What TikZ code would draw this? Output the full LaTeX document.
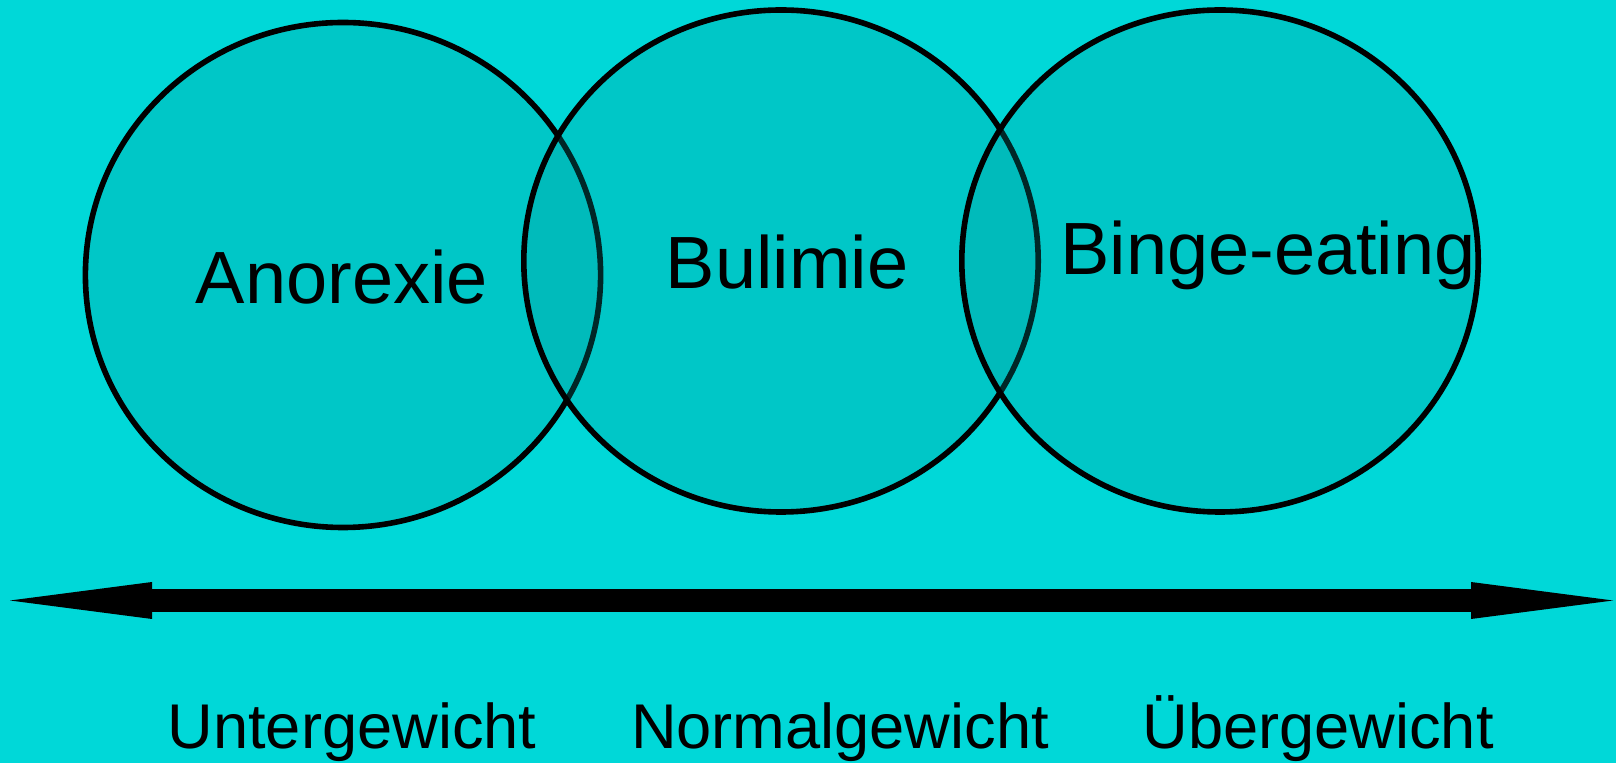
\documentclass[tikz,border=0pt]{standalone}
\usepackage{fontspec}
\setmainfont{Liberation Sans}
\usetikzlibrary{shapes.geometric,arrows.meta}
\definecolor{bgcyan}{RGB}{0,216,216}
\definecolor{blobteal}{RGB}{0,154,154}

\begin{document}
\begin{tikzpicture}[x=0.5pt, y=-0.5pt,
        blob/.style={draw, ellipse, line width=2.8pt, inner sep=0pt, outer sep=0pt,
            fill=blobteal, fill opacity=0.26, draw opacity=1},
        disorder/.style={anchor=base, inner sep=0pt, font=\fontsize{37}{40}\selectfont},
        weight/.style={anchor=base, inner sep=0pt, font=\fontsize{31.6}{34}\selectfont}]

        \fill[bgcyan] (0,0) rectangle (1616,763);
        \useasboundingbox (0,0) rectangle (1616,763);

        % the three overlapping circles
        \node[name=anorexia, blob, minimum width=257.6pt, minimum height=252.5pt] at (343,275) {};
        \node[name=bulimia, blob, minimum width=257.2pt, minimum height=251pt] at (781,261) {};
        \node[name=binge, blob, minimum width=258.2pt, minimum height=251pt] at (1220,261) {};

        \node[name=anorexia_label, disorder] at (342,304) {Anorexie};
        \node[name=bulimia_label, disorder] at (787,289) {Bulimie};
        \node[name=binge_label, disorder] at (1268,275) {Binge-eating};

        % weight axis
        \coordinate (axis_left) at (10,600.5);
        \coordinate (axis_right) at (1613,600.5);
        \draw[line width=11.5pt,
            {Triangle[length=71pt,width=18.5pt,line width=0pt]}-{Triangle[length=71pt,width=18.5pt,line width=0pt]}]
            (axis_left) -- (axis_right);

        \node[name=under, weight] at (352,748) {Untergewicht};
        \node[name=normal, weight] at (840,748) {Normalgewicht};
        \node[name=over, weight] at (1318,748) {Übergewicht};
    \end{tikzpicture}
\end{document}
